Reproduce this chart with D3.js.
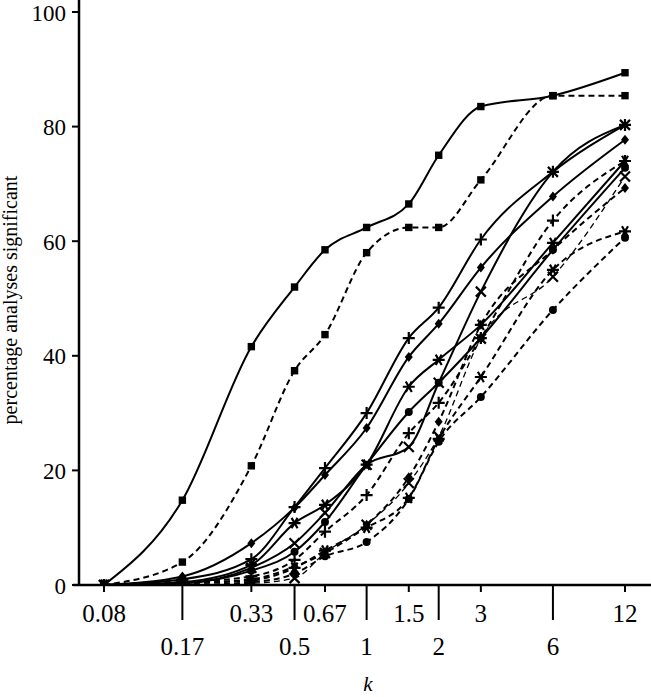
<!DOCTYPE html>
<html>
<head>
<meta charset="utf-8">
<script src="https://cdn.jsdelivr.net/npm/d3@7"></script>
<style>
  body { margin: 0; background: #fff; }
</style>
</head>
<body>
<div id="chart"></div>
<script>
/* DATA */
var kValues = [0.08, 0.17, 0.33, 0.5, 0.67, 1, 1.5, 2, 3, 6, 12];
var kLabels = ["0.08", "0.17", "0.33", "0.5", "0.67", "1", "1.5", "2", "3", "6", "12"];
var yTicks = [0, 20, 40, 60, 80, 100];

// solid lines
var solidSquare   = [0, 14.8, 41.6, 52, 58.5, 62.4, 66.5, 75, 83.5, 85.4, 89.4];
var solidPlus     = [0, 1, 4.5, 13.6, 20.4, 30, 43.1, 48.4, 60.3, 72.1, 80.3];
var solidDiamond  = [0, 1.5, 7.3, 13.5, 19.2, 27.4, 39.8, 45.6, 55.4, 67.8, 77.7];
var solidCross    = [0, 0.3, 3, 7.3, 12.6, 21, 24.1, 35.3, 51.2, 72.1, 80.3];
var solidStar     = [0, 0.5, 3.5, 10.8, 14, 21, 34.6, 39.3, 45.4, 59.7, 74];
var solidCircle   = [0, 0.3, 2.5, 5.8, 11, 21, 30.2, 35.3, 43.1, 58.5, 72.8];
// dashed lines
var dashSquare    = [0, 4, 20.8, 37.4, 43.7, 58, 62.4, 62.4, 70.7, 85.4, 85.4];
var dashPlus      = [0, 0.5, 1.5, 4.4, 9.3, 15.7, 26.5, 31.8, 43.1, 63.6, 74];
var dashDiamond   = [0, 0.3, 1, 3.2, 5.6, 10.5, 18.8, 28.5, 45.4, 58.5, 69.3];
var dashCross     = [0, 0, 0.3, 1.2, 5.6, 10.5, 17.8, 25.9, 43, 53.8, 71.3];
var dashStar      = [0, 0.3, 0.8, 3, 6, 10, 15.2, 25.5, 36.3, 55, 61.7];
var dashCircle    = [0, 0, 0.5, 2, 5, 7.5, 15, 25, 32.8, 48, 60.6];

var series = [
  {values: solidSquare,  marker: "square",  dash: null},
  {values: solidPlus,    marker: "plus",    dash: null},
  {values: solidDiamond, marker: "diamond", dash: null},
  {values: solidCross,   marker: "cross",   dash: null},
  {values: solidStar,    marker: "star",    dash: null},
  {values: solidCircle,  marker: "circle",  dash: null},
  {values: dashSquare,   marker: "square",  dash: "6,4"},
  {values: dashPlus,     marker: "plus",    dash: "6,4"},
  {values: dashDiamond,  marker: "diamond", dash: "6,4"},
  {values: dashCross,    marker: "cross",   dash: "6,4", thin: true},
  {values: dashStar,     marker: "star",    dash: "6,4"},
  {values: dashCircle,   marker: "circle",  dash: "6,4"}
];

var serif = "'Liberation Serif', 'Times New Roman', Tinos, Times, serif";

/* SETUP */
var width = 651;
var height = 697;

var svg = d3.select("#chart")
  .append("svg")
  .attr("width", width)
  .attr("height", height)
  .style("font-family", serif);

var x = d3.scaleLog()
  .domain([0.08, 12])
  .range([104, 625]);

var y = d3.scaleLinear()
  .domain([0, 100])
  .range([585, 12]);

svg.append("clipPath")
  .attr("id", "plotClip")
  .append("rect")
  .attr("x", 80).attr("y", 0)
  .attr("width", width - 80).attr("height", 585);

var line = d3.line()
  .x(function(d, i) { return x(kValues[i]); })
  .y(function(d) { return y(d); })
  .curve(d3.curveMonotoneX);

var plot = svg.append("g").attr("clip-path", "url(#plotClip)");

plot.selectAll("path.series")
  .data(series)
  .enter()
  .append("path")
  .attr("class", "series")
  .attr("d", function(d) { return line(d.values); })
  .attr("fill", "none")
  .attr("stroke", "#000")
  .attr("stroke-width", function(d) { return d.thin ? 1.3 : 2; })
  .attr("stroke-dasharray", function(d) { return d.dash; });

// marker shapes
function markerPath(type) {
  if (type === "square") return d3.symbol().type(d3.symbolSquare).size(55)();
  if (type === "circle") return d3.symbol().type(d3.symbolCircle).size(50)();
  if (type === "diamond") return "M0,-5L4,0L0,5L-4,0Z";
  if (type === "plus") return "M-6,0H6M0,-6V6";
  if (type === "cross") return "M-5,-5L5,5M-5,5L5,-5";
  return "M-6,0H6M-3,-5.2L3,5.2M-3,5.2L3,-5.2";  // asterisk
}

series.forEach(function(s) {
  var filled = (s.marker === "square" || s.marker === "circle" || s.marker === "diamond");
  plot.append("g")
    .selectAll("path")
    .data(s.values)
    .enter()
    .append("path")
    .attr("transform", function(d, i) { return "translate(" + x(kValues[i]) + "," + y(d) + ")"; })
    .attr("d", markerPath(s.marker))
    .attr("fill", filled ? "#000" : "none")
    .attr("stroke", "#000")
    .attr("stroke-width", filled ? 0 : 2.2);
});

/* AXES */
// y axis
svg.append("line")
  .attr("x1", 79).attr("x2", 79)
  .attr("y1", 0).attr("y2", 586)
  .attr("stroke", "#000").attr("stroke-width", 2.5);

svg.selectAll("line.ytick")
  .data(yTicks)
  .enter()
  .append("line")
  .attr("class", "ytick")
  .attr("x1", 72).attr("x2", 79)
  .attr("y1", function(d) { return y(d); })
  .attr("y2", function(d) { return y(d); })
  .attr("stroke", "#000").attr("stroke-width", 2);

svg.selectAll("text.ylab")
  .data(yTicks)
  .enter()
  .append("text")
  .attr("class", "ylab")
  .attr("x", 66)
  .attr("y", function(d) { return y(d) + 8.5; })
  .attr("text-anchor", "end")
  .attr("font-size", 23)
  .text(function(d) { return d; });

// x axis
svg.append("line")
  .attr("x1", 73).attr("x2", width)
  .attr("y1", 585).attr("y2", 585)
  .attr("stroke", "#000").attr("stroke-width", 2.5);

svg.selectAll("line.xtick")
  .data(kValues)
  .enter()
  .append("line")
  .attr("class", "xtick")
  .attr("x1", function(d) { return x(d); })
  .attr("x2", function(d) { return x(d); })
  .attr("y1", 585)
  .attr("y2", function(d, i) { return i % 2 === 0 ? 592 : 620; })
  .attr("stroke", "#000").attr("stroke-width", 2);

svg.selectAll("text.xlab")
  .data(kLabels)
  .enter()
  .append("text")
  .attr("class", "xlab")
  .attr("x", function(d, i) { return x(kValues[i]); })
  .attr("y", function(d, i) { return i % 2 === 0 ? 622 : 655; })
  .attr("text-anchor", "middle")
  .attr("font-size", 25)
  .text(function(d) { return d; });

// axis titles
svg.append("text")
  .attr("x", 368).attr("y", 691)
  .attr("text-anchor", "middle")
  .attr("font-size", 21)
  .attr("font-style", "italic")
  .text("k");

svg.append("text")
  .attr("transform", "translate(17,300) rotate(-90)")
  .attr("text-anchor", "middle")
  .attr("font-size", 20)
  .text("percentage analyses significant");
</script>
</body>
</html>
